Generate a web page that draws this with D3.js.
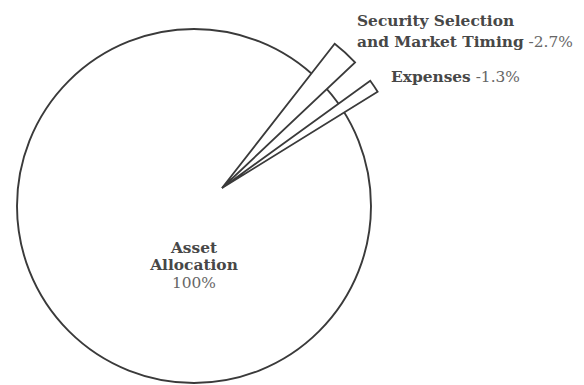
<!DOCTYPE html>
<html>
<head>
<meta charset="utf-8">
<script src="https://cdn.jsdelivr.net/npm/d3@7"></script>
<style>
  body { margin: 0; background: #fff; }
  text { font-family: "DejaVu Serif", "Liberation Serif", serif; }
</style>
</head>
<body>
<script>
// Chart data
const categories = ["Asset Allocation", "Security Selection and Market Timing", "Expenses"];
const values = [100, -2.7, -1.3];
const valueLabels = ["100%", "-2.7%", "-1.3%"];
const nameLines = [["Asset", "Allocation"], ["Security Selection", "and Market Timing"], ["Expenses"]];

const width = 584, height = 385;
const center = { x: 194, y: 206 };
const radius = 177;
const apex = { x: 222, y: 188 };   // where the pulled-out slivers meet
const sliverRadius = 183;
const ink = "#3a3a3a";

const svg = d3.select("body").append("svg")
    .attr("width", width)
    .attr("height", height);

// the main pie: 100% = full turn
const pieAngle = d3.scaleLinear().domain([0, 100]).range([0, 2 * Math.PI]);
// slivers are drawn a bit narrower, degrees of sweep per percentage point
const sliverAngle = d3.scaleLinear().domain([0, 1]).range([0, 3.2 * Math.PI / 180]);
const sliverStart = [null, 38.0, 54.1].map(d => d == null ? null : d * Math.PI / 180);

const arc = d3.arc().innerRadius(0);

// Asset allocation: the whole pie
svg.append("path")
    .attr("transform", `translate(${center.x},${center.y})`)
    .attr("d", arc.outerRadius(radius)({ startAngle: 0, endAngle: pieAngle(values[0]) }))
    .attr("fill", "#fff")
    .attr("stroke", ink)
    .attr("stroke-width", 1.9);

// negative contributions as thin slices pulled out from the pie
const slivers = values.slice(1).map((v, i) => ({
    key: categories[i + 1],
    startAngle: sliverStart[i + 1],
    endAngle: sliverStart[i + 1] + sliverAngle(Math.abs(v))
}));

svg.append("g")
    .attr("transform", `translate(${apex.x},${apex.y})`)
  .selectAll("path")
    .data(slivers)
    .enter()
    .append("path")
    .attr("d", d => arc.outerRadius(sliverRadius)(d))
    .attr("fill", "#fff")
    .attr("stroke", ink)
    .attr("stroke-width", 1.8)
    .attr("stroke-linejoin", "miter");

// labels
const labelPos = [
    { x: 194, y: 253, anchor: "middle", dy: 17 },
    { x: 357, y: 25.5, anchor: "start", dy: 21 },
    { x: 391, y: 82, anchor: "start", dy: 21 }
];

categories.forEach((c, i) => {
    const p = labelPos[i];
    const t = svg.append("text")
        .attr("x", p.x)
        .attr("y", p.y)
        .attr("text-anchor", p.anchor)
        .style("font-size", "15.4px");
    nameLines[i].forEach((line, j) => {
        t.append("tspan")
            .attr("x", p.x)
            .attr("dy", j === 0 ? 0 : p.dy)
            .attr("font-weight", "bold")
            .attr("fill", "#474747")
            .text(line);
    });
    if (i === 0) {
        t.append("tspan")
            .attr("x", p.x)
            .attr("dy", 18)
            .attr("fill", "#666")
            .text(valueLabels[i]);
    } else {
        t.append("tspan")
            .attr("fill", "#666")
            .text(" " + valueLabels[i]);
    }
});
</script>
</body>
</html>
